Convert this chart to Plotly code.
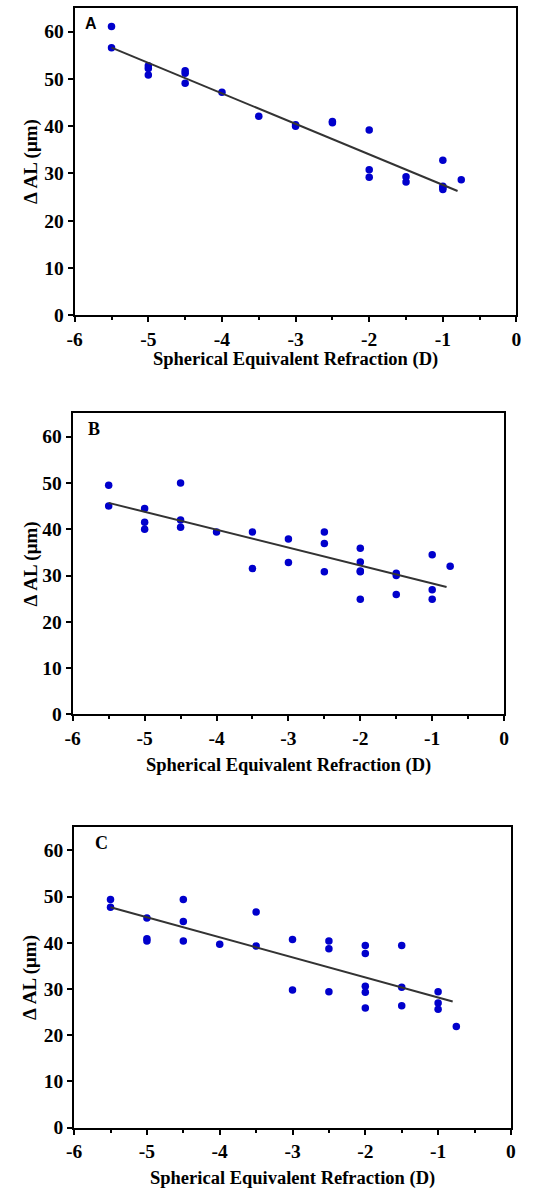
import numpy as np
import plotly.graph_objects as go

W, H = 554, 1203

# Panel A: change in axial length vs spherical equivalent refraction
a_x = [-5.5, -5.5, -5, -5, -5, -4.5, -4.5, -4.5, -4, -3.5, -3, -3, -2.5, -2.5,
       -2, -2, -2, -1.5, -1.5, -1, -1, -1, -1, -0.75]
a_y = [61.1, 56.6, 52.8, 52.2, 50.8, 51.7, 51.2, 49.1, 47.2, 42.1, 40.3, 40.0, 41.0, 40.7,
       39.2, 30.8, 29.2, 29.3, 28.2, 32.8, 27.3, 27.0, 26.6, 28.7]
a_fit = (-6.45, 21.13)  # slope, intercept

# Panel B
b_x = [-5.5, -5.5, -5, -5, -5, -4.5, -4.5, -4.5, -4, -3.5, -3.5, -3, -3,
       -2.5, -2.5, -2.5, -2, -2, -2, -2, -2, -1.5, -1.5, -1.5, -1, -1, -1, -0.75]
b_y = [49.5, 45.0, 44.5, 41.5, 40.0, 50.0, 42.0, 40.4, 39.4, 39.4, 31.5, 37.9, 32.8,
       39.4, 36.9, 30.8, 35.9, 32.9, 31.0, 30.8, 24.9, 30.5, 30.0, 25.9, 34.5, 26.9, 24.9, 32.0]
b_fit = (-3.87, 24.41)

# Panel C
c_x = [-5.5, -5.5, -5, -5, -5, -4.5, -4.5, -4.5, -4, -3.5, -3.5, -3, -3,
       -2.5, -2.5, -2.5, -2, -2, -2, -2, -2, -1.5, -1.5, -1.5, -1, -1, -1, -0.75]
c_y = [49.4, 47.7, 45.4, 40.9, 40.4, 49.4, 44.6, 40.4, 39.7, 46.7, 39.3, 40.7, 29.8,
       40.4, 38.7, 29.4, 39.4, 37.7, 30.6, 29.3, 25.9, 39.4, 30.4, 26.4, 29.4, 27.0, 25.6, 21.9]
c_fit = (-4.34, 23.83)

fit_range = [-5.5, -0.8]
x_ticks = [-6, -5, -4, -3, -2, -1, 0]
y_ticks = [0, 10, 20, 30, 40, 50, 60]
x_title = "Spherical Equivalent Refraction (D)"
y_title = "Δ AL (μm)"

# plot-area boxes in pixels: left, right, top, bottom
boxes = [(68.3, 520.7, 8.0, 318.3), (66.3, 508.0, 417.3, 721.0), (67.7, 515.0, 835.0, 1138.0)]
panels = [("A", a_x, a_y, a_fit), ("B", b_x, b_y, b_fit), ("C", c_x, c_y, c_fit)]
letter_pos = [(85.5, 23.5), (88.0, 433.0), (95.5, 851.0)]
xtitle_y = [363, 773, 1189]

SERIF = "Liberation Serif"
DOT = "#0000CC"

fig = go.Figure()
for i, (name, xs, ys, (m, b)) in enumerate(panels):
    k = "" if i == 0 else str(i + 1)
    fig.add_trace(go.Scatter(x=xs, y=ys, mode="markers", xaxis="x" + k, yaxis="y" + k,
                             marker=dict(color=DOT, size=7.5), showlegend=False))
    fx = np.array(fit_range)
    fig.add_trace(go.Scatter(x=fx, y=m * fx + b, mode="lines", xaxis="x" + k, yaxis="y" + k,
                             line=dict(color="#333333", width=2), showlegend=False))

    l, r, t, btm = boxes[i]
    axis_common = dict(showline=True, linecolor="black", linewidth=2, mirror=True,
                       showgrid=False, zeroline=False, ticks="outside", ticklen=5,
                       tickwidth=2, tickcolor="black",
                       tickfont=dict(family=SERIF, size=19.5, color="black", weight="bold"))
    fig.update_layout(**{
        "xaxis" + k: dict(domain=[l / W, r / W], range=[-6, 0], anchor="y" + k,
                          tickvals=x_ticks, ticktext=[str(v) for v in x_ticks],
                          minor=dict(tickvals=[-5.5, -4.5, -3.5, -2.5, -1.5, -0.5],
                                     ticks="outside", ticklen=3, tickwidth=2, tickcolor="black"),
                          **axis_common),
        "yaxis" + k: dict(domain=[1 - btm / H, 1 - t / H], range=[0, 65], anchor="x" + k,
                          tickvals=y_ticks, **axis_common),
    })
    fig.add_annotation(x=(l + r) / 2 / W, y=1 - xtitle_y[i] / H, xref="paper", yref="paper",
                       text=x_title, showarrow=False, xanchor="center", yanchor="middle",
                       font=dict(family=SERIF, size=18.5, color="black", weight="bold"))
    fig.add_annotation(x=23 / W, y=1 - (t + btm) / 2 / H, xref="paper", yref="paper",
                       text=y_title, showarrow=False, textangle=-90,
                       xanchor="center", yanchor="middle",
                       font=dict(family=SERIF, size=19, color="black", weight="bold"))
    lx, ly = letter_pos[i]
    fig.add_annotation(x=lx / W, y=1 - ly / H, xref="paper", yref="paper", text=name,
                       showarrow=False, xanchor="center", yanchor="middle",
                       font=dict(family="Liberation Sans" if name == "A" else SERIF,
                                 size=16 if name == "A" else 18, color="black", weight="bold"))

fig.update_layout(width=W, height=H, margin=dict(l=0, r=0, t=0, b=0),
                  paper_bgcolor="white", plot_bgcolor="white")
fig.write_html("out.html")
